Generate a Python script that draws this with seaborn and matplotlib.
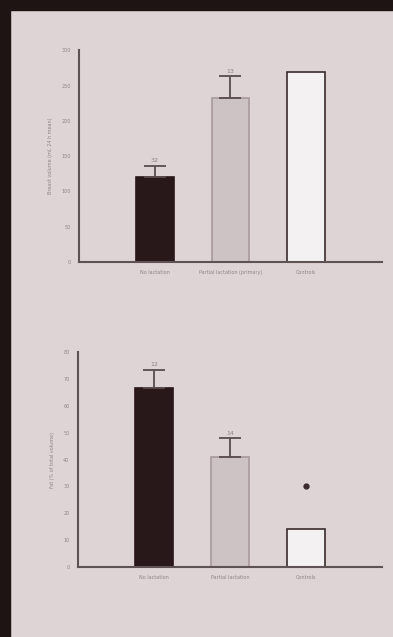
import matplotlib
matplotlib.use("Agg")
import matplotlib.pyplot as plt
from matplotlib.patches import Rectangle
import pandas as pd
import seaborn as sns

# values (both panels)
groups_top = ["No lactation", "Partial lactation (primary)", "Controls"]
vals_top = [121, 232, 269]
err_top = [15, 31, 0]
n_top = ["32", "13", ""]
yticks_top = [0, 50, 100, 150, 200, 250, 300]

groups_bot = ["No lactation", "Partial lactation", "Controls"]
vals_bot = [66.5, 41, 14]
err_bot = [7, 7, 0]
n_bot = ["12", "14", ""]
yticks_bot = [0, 10, 20, 30, 40, 50, 60, 70, 80]
star_bot = 30

bg = "#ded4d6"
spine_col = "#5e5254"
txt_col = "#8f8385"
bar_cols = ["#2a1618", "#cfc1c3", "#f4f0f1"]
edge_cols = ["#2a1618", "#a89a9c", "#3a2a2c"]

sns.set_theme(style="white")
plt.rcParams['font.family'] = ['DejaVu Sans']

fig = plt.figure(figsize=(3.93, 6.37), dpi=100)
fig.patch.set_facecolor(bg)

# dark slide frame at top and left edges
fig.patches.append(Rectangle((0, 0.984), 1, 0.016, transform=fig.transFigure, color="#1e1414", zorder=0))
fig.patches.append(Rectangle((0, 0), 0.025, 1, transform=fig.transFigure, color="#1e1414", zorder=0))


def panel(rect, groups, vals, errs, ns, yticks, ylabel):
    ax = fig.add_axes(rect)
    ax.set_facecolor(bg)
    df = pd.DataFrame({"group": groups, "value": vals})
    sns.barplot(data=df, x="group", y="value", hue="group", palette=bar_cols,
                width=0.5, linewidth=1.2, legend=False, ax=ax)
    for p, ec in zip(ax.patches, edge_cols):
        p.set_edgecolor(ec)
    for i, (v, e, n) in enumerate(zip(vals, errs, ns)):
        if e > 0:
            ax.errorbar(i, v, yerr=[[0], [e]], fmt="none", ecolor="#5a4c4e",
                        elinewidth=1.3, capsize=8, capthick=1.3)
        if n:
            ax.text(i, v + e + yticks[-1] * 0.012, n, ha="center", va="bottom",
                    fontsize=4.5, color=txt_col)
    ax.set_xlim(-1, 3)
    ax.set_ylim(0, yticks[-1])
    ax.set_yticks(yticks)
    ax.tick_params(axis="both", labelsize=3.5, colors=txt_col, length=0, pad=6)
    ax.set_xlabel("")
    ax.set_ylabel(ylabel, fontsize=3.5, color=txt_col, labelpad=6)
    for s in ["top", "right"]:
        ax.spines[s].set_visible(False)
    for s in ["left", "bottom"]:
        ax.spines[s].set_color(spine_col)
        ax.spines[s].set_linewidth(1.5)
    return ax


ax1 = panel([0.201, 0.589, 0.771, 0.332], groups_top, vals_top, err_top, n_top,
            yticks_top, "Breast volume (ml, 24 h mean)")
ax2 = panel([0.198, 0.110, 0.774, 0.337], groups_bot, vals_bot, err_bot, n_bot,
            yticks_bot, "Fat (% of total volume)")
ax2.plot([2], [star_bot], marker="o", markersize=3.5, color="#3a2a2c")

fig.savefig("out.png", dpi=100, facecolor=bg)
